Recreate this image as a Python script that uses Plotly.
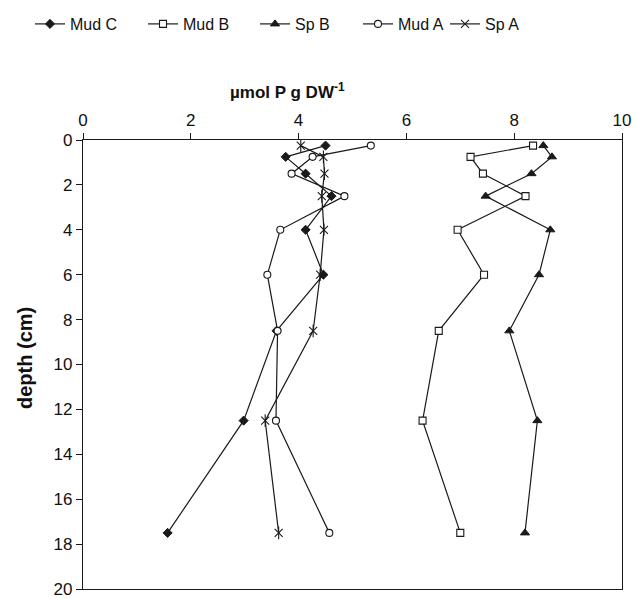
import plotly.graph_objects as go

depth = [0.25, 0.75, 1.5, 2.5, 4, 6, 8.5, 12.5, 17.5]
mud_c = [4.50, 3.76, 4.13, 4.61, 4.13, 4.46, 3.59, 2.98, 1.57]
mud_b = [8.35, 7.19, 7.42, 8.21, 6.95, 7.44, 6.60, 6.30, 7.00]
sp_b = [8.54, 8.70, 8.32, 7.47, 8.67, 8.46, 7.91, 8.43, 8.20]
mud_a = [5.34, 4.26, 3.87, 4.85, 3.66, 3.42, 3.61, 3.58, 4.57]
sp_a = [4.04, 4.46, 4.48, 4.43, 4.47, 4.40, 4.27, 3.38, 3.63]

names = ["Mud C", "Mud B", "Sp B", "Mud A", "Sp A"]
series = [mud_c, mud_b, sp_b, mud_a, sp_a]

INK = "#1a1a1a"
styles = [
    dict(symbol="diamond", size=7, color=INK, line=dict(color=INK, width=1)),
    dict(symbol="square", size=7, color="white", line=dict(color=INK, width=1.1)),
    dict(symbol="triangle-up", size=8, color=INK, line=dict(color=INK, width=1)),
    dict(symbol="circle", size=7, color="white", line=dict(color=INK, width=1.1)),
    dict(symbol="x-thin-open", size=8, color=INK, line=dict(color=INK, width=1.1)),
]
legend_line_start = [35, 148, 260, 363, 450]  # screen px of legend entries

OFF = 8  # page body margin
W, H = 642 - OFF, 599 - OFF
# plot box on screen: x 83..622, y 140..589
L, R, T, B = 83 - OFF, W - (622 - OFF), 140 - OFF, H - (589 - OFF)
FONT = "Arial, Liberation Sans, sans-serif"
TXT = "#111111"

fig = go.Figure()
for i, (nm, vals, st) in enumerate(zip(names, series, styles)):
    lg = "legend" if i == 0 else f"legend{i+1}"
    fig.add_trace(go.Scatter(
        x=vals, y=depth, name=nm, mode="lines+markers",
        line=dict(color=INK, width=1.2),
        marker=st, legend=lg,
    ))
# vertical stroke completing the Sp A asterisk markers
fig.add_trace(go.Scatter(
    x=sp_a, y=depth, mode="markers", showlegend=False, hoverinfo="skip",
    marker=dict(symbol="line-ns-open", size=9, color=INK, line=dict(color=INK, width=1.1)),
))

legends = {}
for i, xs in enumerate(legend_line_start):
    key = "legend" if i == 0 else f"legend{i+1}"
    legends[key] = dict(
        x=(xs - OFF - 5) / W, xref="container", xanchor="left",
        y=1 - (24 - OFF) / H, yref="container", yanchor="middle",
        orientation="h", bgcolor="rgba(0,0,0,0)", borderwidth=0,
        font=dict(family=FONT, size=16, color=TXT),
    )

pw, ph = W - L - R, H - T - B
fig.update_layout(
    width=W, height=H,
    margin=dict(l=L, r=R, t=T, b=B, autoexpand=False),
    paper_bgcolor="white", plot_bgcolor="white",
    font=dict(family=FONT, size=16, color=TXT),
    showlegend=True,
    **legends,
    xaxis=dict(
        side="top", range=[0, 10], dtick=2, tick0=0,
        ticks="outside", ticklen=6, tickwidth=1, tickcolor=INK,
        showline=True, linecolor=INK, linewidth=1.3, mirror=True,
        showgrid=False, zeroline=False, ticklabeloverflow="allow",
        tickfont=dict(family=FONT, size=17, color=TXT),
    ),
    yaxis=dict(
        range=[20, 0], dtick=2, tick0=0,
        ticks="outside", ticklen=6, tickwidth=1, tickcolor=INK,
        showline=True, linecolor=INK, linewidth=1.3, mirror=True,
        showgrid=False, zeroline=False, ticklabeloverflow="allow",
        tickfont=dict(family=FONT, size=17, color=TXT),
    ),
    annotations=[
        dict(text="<b>µmol P g DW<sup>-1</sup></b>", xref="paper", yref="paper",
             x=(287 - 83) / pw, y=1 + (140 - 91) / ph,
             xanchor="center", yanchor="middle", showarrow=False,
             font=dict(family=FONT, size=17, color=TXT)),
        dict(text="<b>depth (cm)</b>", xref="paper", yref="paper",
             x=(25 - 83) / pw, y=1 - (358 - 140) / ph,
             xanchor="center", yanchor="middle", textangle=-90, showarrow=False,
             font=dict(family=FONT, size=20, color=TXT)),
    ],
)

fig.write_html("out.html")
